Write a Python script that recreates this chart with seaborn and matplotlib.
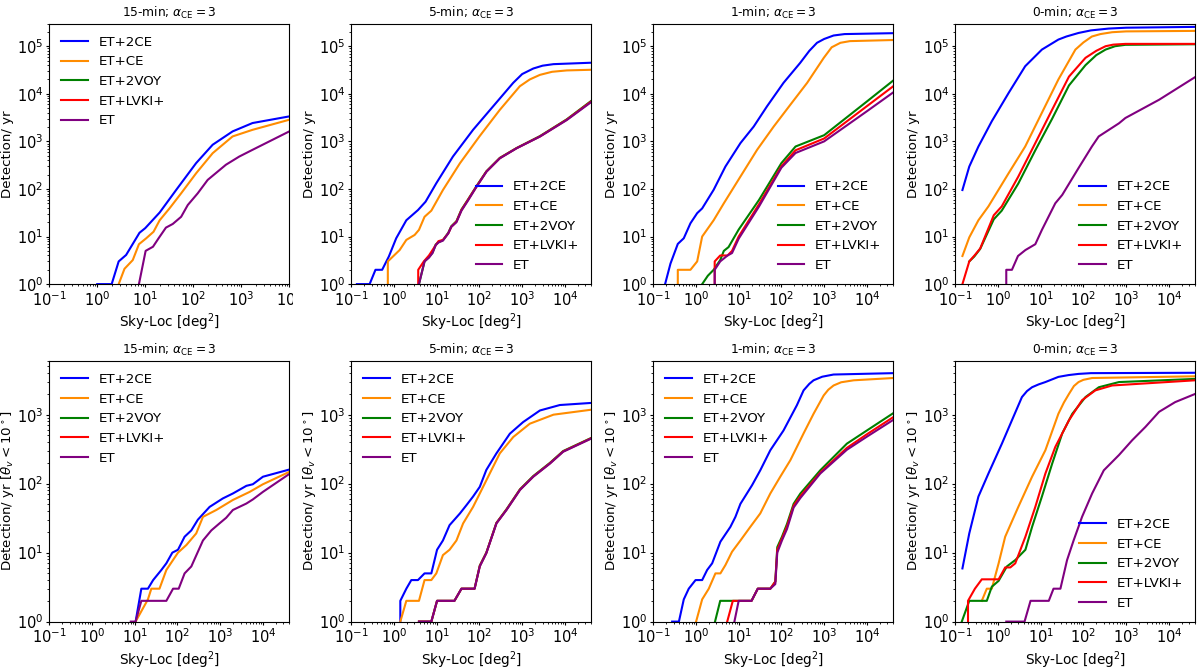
import matplotlib
matplotlib.use("Agg")
import matplotlib.pyplot as plt
from matplotlib.transforms import Bbox
import pandas as pd
import seaborn as sns

# detector networks, legend order
networks = ["ET+2CE", "ET+CE", "ET+2VOY", "ET+LVKI+", "ET"]
net_colors = ["blue", "darkorange", "green", "red", "purple"]
titles = ["15-min", "5-min", "1-min", "0-min"]

# (sky-loc area [deg^2], detections / yr)
# --- top row: all events ---
t15_2ce = [(1.0, 1), (2.0, 1), (2.8, 3), (4.0, 4.1), (7.6, 12), (10, 15), (20, 32), (44, 95),
           (115, 350), (254, 850), (660, 1620), (1720, 2430), (1e4, 3350)]
t15_ce = [(2.8, 1), (3.7, 2.1), (5.5, 3.2), (7.4, 6.9), (10.5, 9.2), (14.9, 12.6), (20, 22),
          (32, 39), (56, 81), (115, 214), (254, 565), (660, 1270), (1720, 1750), (1e4, 2850)]
t15_voy = []
t15_lvk = []
t15_et = [(7.4, 1), (10.2, 5), (14.5, 6.1), (19, 9.2), (27, 15.4), (37.5, 18.4), (56, 26),
          (77, 46), (124, 81), (200, 155), (480, 323), (910, 480), (1720, 665), (1e4, 1620)]

t5_2ce = [(0.136, 1), (0.27, 1), (0.37, 2), (0.53, 2), (0.76, 3.8), (1.13, 9.2), (1.95, 22),
          (3.65, 36), (5.5, 54), (9.8, 132), (24, 480), (71, 1750), (209, 5450), (617, 17000),
          (1000, 26000), (1820, 34000), (3000, 39000), (5400, 42000), (41253, 45000)]
t5_ce = [(0.72, 0), (0.72, 3), (1.36, 5.2), (1.95, 8.5), (3.05, 10.8), (3.85, 13.8), (5.2, 26),
         (7.5, 35), (14, 95), (35, 347), (100, 1270), (300, 4600), (880, 14400), (1500, 20000),
         (2600, 25000), (5000, 29000), (11000, 31000), (41253, 32000)]
t5_voy = [(3.85, 1), (5.2, 3), (6.6, 3.7), (8.0, 4.6), (9.5, 6.8), (11, 7.6), (14, 8.4),
          (18.7, 12), (22, 16.5), (29, 21), (38, 37), (54, 60), (85, 114), (146, 236),
          (300, 450), (740, 725), (2600, 1290), (11000, 2900), (41253, 7100)]
t5_lvk = [(3.7, 0), (3.7, 2), (5.0, 3), (6.6, 4), (9.5, 6.6), (11, 8), (14, 8.5), (18.7, 11.7),
          (22, 16), (29, 20.6), (38, 36), (54, 59), (85, 112), (146, 233), (300, 445),
          (740, 720), (2600, 1270), (11000, 2850), (41253, 6900)]
t5_et = [(3.85, 1), (5.2, 3), (6.6, 3.6), (8.0, 4.5), (9.5, 6.6), (11, 7.5), (14, 8.2),
         (18.7, 11.7), (22, 16), (29, 20), (38, 35), (54, 57), (85, 110), (146, 230),
         (300, 440), (740, 715), (2600, 1260), (11000, 2800), (41253, 6700)]

t1_2ce = [(0.19, 1), (0.254, 2.7), (0.377, 7), (0.52, 9.2), (0.745, 19), (1.07, 31), (1.4, 39),
          (2.6, 96), (4.9, 296), (11, 920), (22.5, 2050), (46, 5450), (112, 17000),
          (274, 44500), (450, 80000), (680, 118000), (1000, 142000), (1660, 168000),
          (3000, 180000), (41253, 188000)]
t1_ce = [(0.377, 0), (0.377, 2), (0.745, 2), (1.07, 3), (1.4, 10), (2.6, 22), (4.5, 50),
         (11, 182), (27, 665), (66, 2050), (162, 5900), (400, 17000), (980, 57000),
         (1500, 95000), (2400, 118000), (4000, 128000), (41253, 135000)]
t1_voy = [(1.4, 1), (1.9, 1.5), (2.6, 2), (3.7, 3.2), (4.5, 5), (5.8, 6), (10, 14), (30, 59),
          (100, 350), (214, 780), (1000, 1350), (1e4, 6900), (41253, 19000)]
t1_lvk = [(2.75, 0), (2.75, 3), (3.7, 4), (5.5, 4), (7, 5), (10, 10), (30, 48), (100, 300),
          (214, 650), (1000, 1150), (1e4, 5500), (41253, 14400)]
t1_et = [(2.75, 0), (2.75, 2), (3.7, 3), (5.5, 4), (7, 4.5), (10, 9), (30, 43), (100, 280),
         (214, 570), (1000, 1000), (1e4, 4300), (41253, 10700)]

t0_2ce = [(0.148, 95), (0.214, 296), (0.35, 780), (0.72, 2650), (1.78, 10400), (4.35, 38000),
          (10.7, 85000), (26, 138000), (40, 160000), (77, 190000), (150, 215000),
          (390, 235000), (1000, 245000), (41253, 255000)]
t0_ce = [(0.148, 3.9), (0.214, 9.6), (0.35, 22), (0.6, 43), (1.78, 214), (4.35, 780),
         (10.7, 4000), (26, 20000), (65, 85000), (100, 120000), (158, 160000), (250, 180000),
         (470, 197000), (1000, 205000), (41253, 210000)]
t0_voy = [(0.214, 3), (0.28, 3.8), (0.385, 5.5), (0.8, 23), (1.23, 35), (3, 130), (7.5, 650),
          (18.6, 3000), (46, 15000), (112, 40000), (200, 65000), (330, 85000), (550, 100000),
          (960, 107000), (41253, 110000)]
t0_lvk = [(0.148, 1), (0.214, 3), (0.29, 4.1), (0.385, 5.6), (0.8, 28), (1.23, 43), (3, 182),
          (7.5, 920), (18.6, 4650), (46, 23000), (112, 57000), (200, 80000), (330, 100000),
          (500, 108000), (960, 112000), (41253, 112000)]
t0_et = [(1.57, 0), (1.57, 2), (2.13, 2), (2.95, 3.9), (4.4, 5.2), (7.5, 6.9), (10.7, 13.8),
         (22, 50), (32, 75), (77, 275), (158, 780), (228, 1270), (680, 2400), (960, 3100),
         (5900, 7500), (41253, 22500)]

# --- bottom row: on-axis events (theta_v < 10 deg) ---
b15_2ce = [(10.5, 1), (14.3, 3), (20.4, 3), (27, 4), (42, 5.6), (55, 7), (76, 10), (103, 11),
           (147, 17), (211, 21), (300, 30), (565, 46), (1150, 61), (1980, 72), (4100, 93),
           (5800, 98), (1e4, 126), (41253, 160)]
b15_ce = [(10.5, 1), (20.4, 2.1), (24.5, 3), (38, 3), (55, 5.6), (103, 10), (162, 12.9),
          (275, 19), (395, 33), (810, 41.5), (1980, 58), (4900, 76), (1e4, 98), (41253, 148)]
b15_voy = []
b15_lvk = []
b15_et = [(8.1, 1), (10.5, 1), (14.3, 2), (55, 2), (79, 3), (107, 3), (147, 5), (211, 6.3),
          (395, 15), (620, 21), (960, 26.5), (1380, 32), (1980, 41.5), (4100, 51.5), (5800, 59),
          (1e4, 76), (41253, 138)]

b5_2ce = [(1.41, 0), (1.41, 2), (1.95, 3), (2.55, 4), (3.65, 4), (5.2, 5), (7.5, 5), (10.2, 11),
          (14, 15), (20, 25), (35, 37), (50, 49), (71, 65), (102, 90), (145, 158), (250, 275),
          (515, 530), (1050, 780), (2600, 1150), (7600, 1380), (41253, 1480)]
b5_ce = [(1.41, 1), (1.95, 2), (3.85, 2), (5.2, 4), (7.5, 4), (9.8, 5), (14, 9.2), (20, 11),
         (29, 15), (41.5, 26.5), (71, 46), (102, 72), (174, 140), (300, 275), (620, 475),
         (1510, 740), (5400, 1000), (41253, 1180)]
b5_voy = [(3.85, 1), (7.5, 1), (10.2, 2), (26, 2), (38, 3), (77, 3), (102, 6.5), (145, 10),
          (250, 27), (430, 42.5), (890, 83), (1820, 129), (4450, 200), (9100, 297), (41253, 460)]
b5_lvk = [(3.85, 1), (7.5, 1), (10.2, 2), (26, 2), (38, 3), (77, 3), (102, 6.4), (145, 9.9),
          (250, 26.8), (430, 42), (890, 82), (1820, 127), (4450, 197), (9100, 293), (41253, 455)]
b5_et = [(3.85, 1), (7.5, 1), (10.2, 2), (26, 2), (38, 3), (77, 3), (102, 6.3), (145, 9.8),
         (250, 26.5), (430, 41.5), (890, 81), (1820, 126), (4450, 195), (9100, 290), (41253, 450)]

b1_2ce = [(0.278, 1), (0.40, 1), (0.52, 2.1), (0.68, 3), (0.98, 4), (1.4, 4), (1.83, 5.6),
          (2.4, 7), (3.74, 14.4), (6.4, 23.6), (8.4, 33), (11, 51), (20.6, 95), (32, 156),
          (55, 305), (112, 590), (230, 1370), (330, 2250), (450, 2800), (565, 3150),
          (900, 3550), (1660, 3820), (41253, 4000)]
b1_ce = [(1.01, 1), (1.4, 2.1), (2.0, 3), (2.86, 5), (3.74, 5), (4.9, 6.6), (7.0, 10.3), (11, 15),
         (18.7, 23.6), (32, 37), (55, 72), (94, 126), (162, 219), (330, 535), (565, 1030),
         (975, 1900), (1250, 2300), (1660, 2650), (2500, 2950), (4900, 3150), (41253, 3400)]
b1_voy = [(2.8, 1), (3.7, 2), (20, 2), (28, 3), (55, 3), (72, 3.8), (80, 12), (103, 17),
          (135, 26), (193, 51), (278, 72), (810, 156), (3400, 380), (1e4, 590), (41253, 1050)]
b1_lvk = [(5.4, 1), (7.3, 2), (20, 2), (28, 3), (55, 3), (72, 3.8), (80, 11), (103, 16),
          (135, 24), (193, 48), (278, 66), (810, 145), (3400, 330), (1e4, 520), (41253, 920)]
b1_et = [(7.95, 1), (10, 2), (20, 2), (28, 3), (55, 3), (72, 3.5), (80, 10), (103, 15),
         (135, 22), (193, 45), (278, 62), (810, 140), (3400, 310), (1e4, 480), (41253, 840)]

b0_2ce = [(0.148, 5.9), (0.214, 19), (0.35, 65), (0.6, 140), (1.24, 380), (2.13, 830),
          (3.65, 1800), (4.8, 2200), (6.3, 2500), (9, 2750), (12.9, 2970), (26, 3530),
          (45, 3750), (77, 3900), (150, 4000), (41253, 4050)]
b0_ce = [(0.42, 2), (0.55, 3), (0.72, 3), (1.04, 7), (1.48, 17), (3.0, 46), (6.3, 126),
         (12.9, 305), (26, 1030), (35, 1500), (46, 2000), (60, 2600), (77, 2970), (100, 3200),
         (160, 3400), (41253, 3600)]
b0_voy = [(0.143, 1), (0.214, 2), (0.55, 2), (0.72, 3.2), (1.04, 3.9), (1.62, 6.3), (2.55, 7.8),
          (4.4, 11), (6.3, 23.6), (10.7, 65), (18.6, 195), (32, 535), (55, 1030), (112, 1800),
          (230, 2500), (680, 2970), (41253, 3300)]
b0_lvk = [(0.2, 0), (0.2, 2), (0.29, 3), (0.42, 4.1), (1.04, 4.1), (1.48, 6.1), (1.95, 6.1),
          (2.55, 7), (4.4, 17), (7.5, 46), (12.9, 140), (22, 340), (46, 830), (93, 1620),
          (190, 2250), (470, 2650), (41253, 3150)]
b0_et = [(1.57, 1), (4.2, 1), (5.8, 2), (15.5, 2), (20, 3), (29, 3), (41.5, 7.8), (59, 15),
         (93, 33), (160, 72), (300, 156), (680, 260), (1380, 425), (2830, 665), (5900, 1100),
         (14000, 1520), (41253, 2000)]

top_row = [
    [t15_2ce, t15_ce, t15_voy, t15_lvk, t15_et],
    [t5_2ce, t5_ce, t5_voy, t5_lvk, t5_et],
    [t1_2ce, t1_ce, t1_voy, t1_lvk, t1_et],
    [t0_2ce, t0_ce, t0_voy, t0_lvk, t0_et],
]
bottom_row = [
    [b15_2ce, b15_ce, b15_voy, b15_lvk, b15_et],
    [b5_2ce, b5_ce, b5_voy, b5_lvk, b5_et],
    [b1_2ce, b1_ce, b1_voy, b1_lvk, b1_et],
    [b0_2ce, b0_ce, b0_voy, b0_lvk, b0_et],
]
top_legend = ["upper left", "lower right", "lower right", "lower right"]
bottom_legend = ["upper left", "upper left", "upper left", "lower right"]

FULL_SKY = 41253


def draw_panel(ax, series, title, ylabel, ylim, legend_loc, xmax, ylabelpad):
    for name, color, pts in zip(networks, net_colors, series):
        if len(pts) == 0:
            ax.plot([], [], color=color, lw=1.5, label=name)
            continue
        df = pd.DataFrame(pts, columns=["area", "rate"])
        sns.lineplot(data=df, x="area", y="rate", color=color, label=name, ax=ax,
                     estimator=None, sort=False, linewidth=1.5)
    ax.set_xscale("log")
    ax.set_yscale("log")
    ax.set_xlim(0.1, xmax)
    ax.set_ylim(*ylim)
    ax.set_title(title + r"; $\alpha_{\rm CE} = 3$", fontsize=8.8, pad=5)
    ax.set_xlabel(r"Sky-Loc [deg$^2$]", fontsize=9.8, labelpad=2)
    ax.set_ylabel(ylabel, fontsize=9.6, labelpad=ylabelpad)
    ax.tick_params(axis="both", which="major", labelsize=10.5, length=2.5, pad=1.8)
    ax.tick_params(axis="both", which="minor", length=1.5)
    ax.legend(loc=legend_loc, frameon=False, fontsize=9.6)


fig, axes = plt.subplots(2, 4, figsize=(12, 6.72), dpi=100)
fig.subplots_adjust(left=0.041, right=0.996, bottom=0.075, top=0.965,
                    wspace=0.258, hspace=0.295)

for i in range(4):
    draw_panel(axes[0, i], top_row[i], titles[i], "Detection/ yr", (1, 3e5),
               top_legend[i], 1e4 if i == 0 else FULL_SKY, 1.5)
    draw_panel(axes[1, i], bottom_row[i], titles[i],
               r"Detection/ yr [$\theta_v < 10^\circ$]", (1, 6e3),
               bottom_legend[i], FULL_SKY, 0.5)

# the first panel was cropped at its right edge in the original figure
fig.canvas.draw()
crop = Bbox.from_extents(0, 0, 293, 672)
for tick in axes[0, 0].xaxis.get_major_ticks():
    tick.label1.set_clip_box(crop)
    tick.label1.set_clip_on(True)

fig.savefig("out.png", dpi=100)
